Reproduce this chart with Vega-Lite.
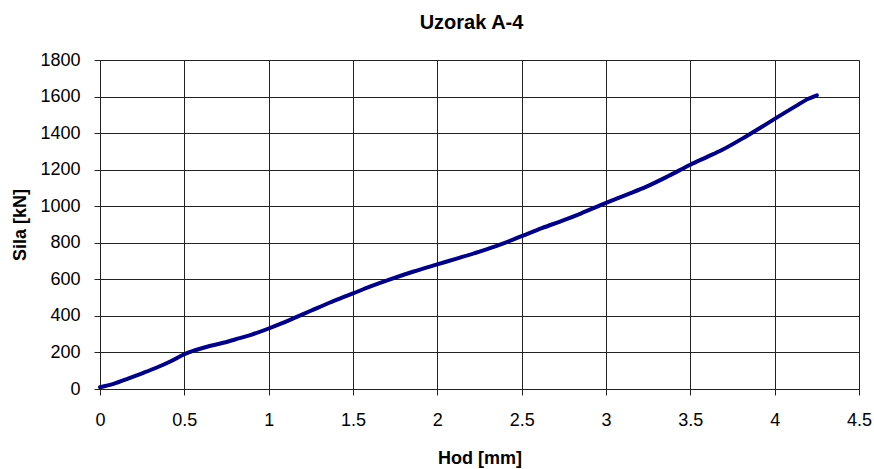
{
  "$schema": "https://vega.github.io/schema/vega-lite/v6.json",
  "autosize": "none",
  "width": 759,
  "height": 329,
  "padding": {"left": 100, "top": 60, "right": 15, "bottom": 80},
  "background": "white",
  "title": {
    "text": "Uzorak A-4",
    "font": "Liberation Sans",
    "fontSize": 20,
    "fontWeight": "bold",
    "color": "#000",
    "offset": 18,
    "dx": -8
  },
  "config": {
    "view": {"stroke": null},
    "axis": {
      "labelFont": "Liberation Sans",
      "labelFontSize": 18,
      "labelColor": "#000",
      "titleFont": "Liberation Sans",
      "titleFontSize": 18,
      "titleFontWeight": "bold",
      "titleColor": "#000",
      "gridColor": "#222",
      "gridOpacity": 1,
      "gridWidth": 1,
      "domainColor": "#222",
      "tickColor": "#222",
      "tickSize": 6
    }
  },
  "data": {
    "values": [
      {"hod": 0.0, "sila": 10},
      {"hod": 0.08, "sila": 28},
      {"hod": 0.17, "sila": 58},
      {"hod": 0.25, "sila": 86},
      {"hod": 0.33, "sila": 115},
      {"hod": 0.42, "sila": 152},
      {"hod": 0.5, "sila": 190},
      {"hod": 0.56, "sila": 211},
      {"hod": 0.63, "sila": 230},
      {"hod": 0.72, "sila": 250},
      {"hod": 0.8, "sila": 271},
      {"hod": 0.9, "sila": 298},
      {"hod": 1.0, "sila": 331},
      {"hod": 1.08, "sila": 360},
      {"hod": 1.16, "sila": 392},
      {"hod": 1.25, "sila": 428},
      {"hod": 1.36, "sila": 472},
      {"hod": 1.45, "sila": 505},
      {"hod": 1.5, "sila": 523},
      {"hod": 1.6, "sila": 560},
      {"hod": 1.72, "sila": 600},
      {"hod": 1.86, "sila": 643},
      {"hod": 2.0, "sila": 682},
      {"hod": 2.12, "sila": 715},
      {"hod": 2.25, "sila": 752},
      {"hod": 2.38, "sila": 793},
      {"hod": 2.5, "sila": 836},
      {"hod": 2.62, "sila": 880},
      {"hod": 2.75, "sila": 924},
      {"hod": 2.85, "sila": 960},
      {"hod": 3.0, "sila": 1018},
      {"hod": 3.12, "sila": 1062},
      {"hod": 3.24, "sila": 1107},
      {"hod": 3.37, "sila": 1165},
      {"hod": 3.5, "sila": 1227},
      {"hod": 3.6, "sila": 1270},
      {"hod": 3.69, "sila": 1309},
      {"hod": 3.83, "sila": 1382},
      {"hod": 3.92, "sila": 1432},
      {"hod": 4.0, "sila": 1478},
      {"hod": 4.12, "sila": 1545},
      {"hod": 4.2, "sila": 1588},
      {"hod": 4.25, "sila": 1607}
    ]
  },
  "mark": {"type": "line", "color": "#000080", "strokeWidth": 4, "strokeCap": "round", "strokeJoin": "round", "interpolate": "monotone"},
  "encoding": {
    "x": {
      "field": "hod",
      "type": "quantitative",
      "title": "Hod [mm]",
      "scale": {"domain": [0, 4.5], "nice": false},
      "axis": {"values": [0, 0.5, 1, 1.5, 2, 2.5, 3, 3.5, 4, 4.5], "format": "~g", "labelPadding": 16, "titlePadding": 20, "labelFlush": false}
    },
    "y": {
      "field": "sila",
      "type": "quantitative",
      "title": "Sila [kN]",
      "scale": {"domain": [0, 1800], "nice": false},
      "axis": {"values": [0, 200, 400, 600, 800, 1000, 1200, 1400, 1600, 1800], "format": "d", "labelPadding": 14, "titlePadding": 10, "labelFlush": false}
    }
  }
}
